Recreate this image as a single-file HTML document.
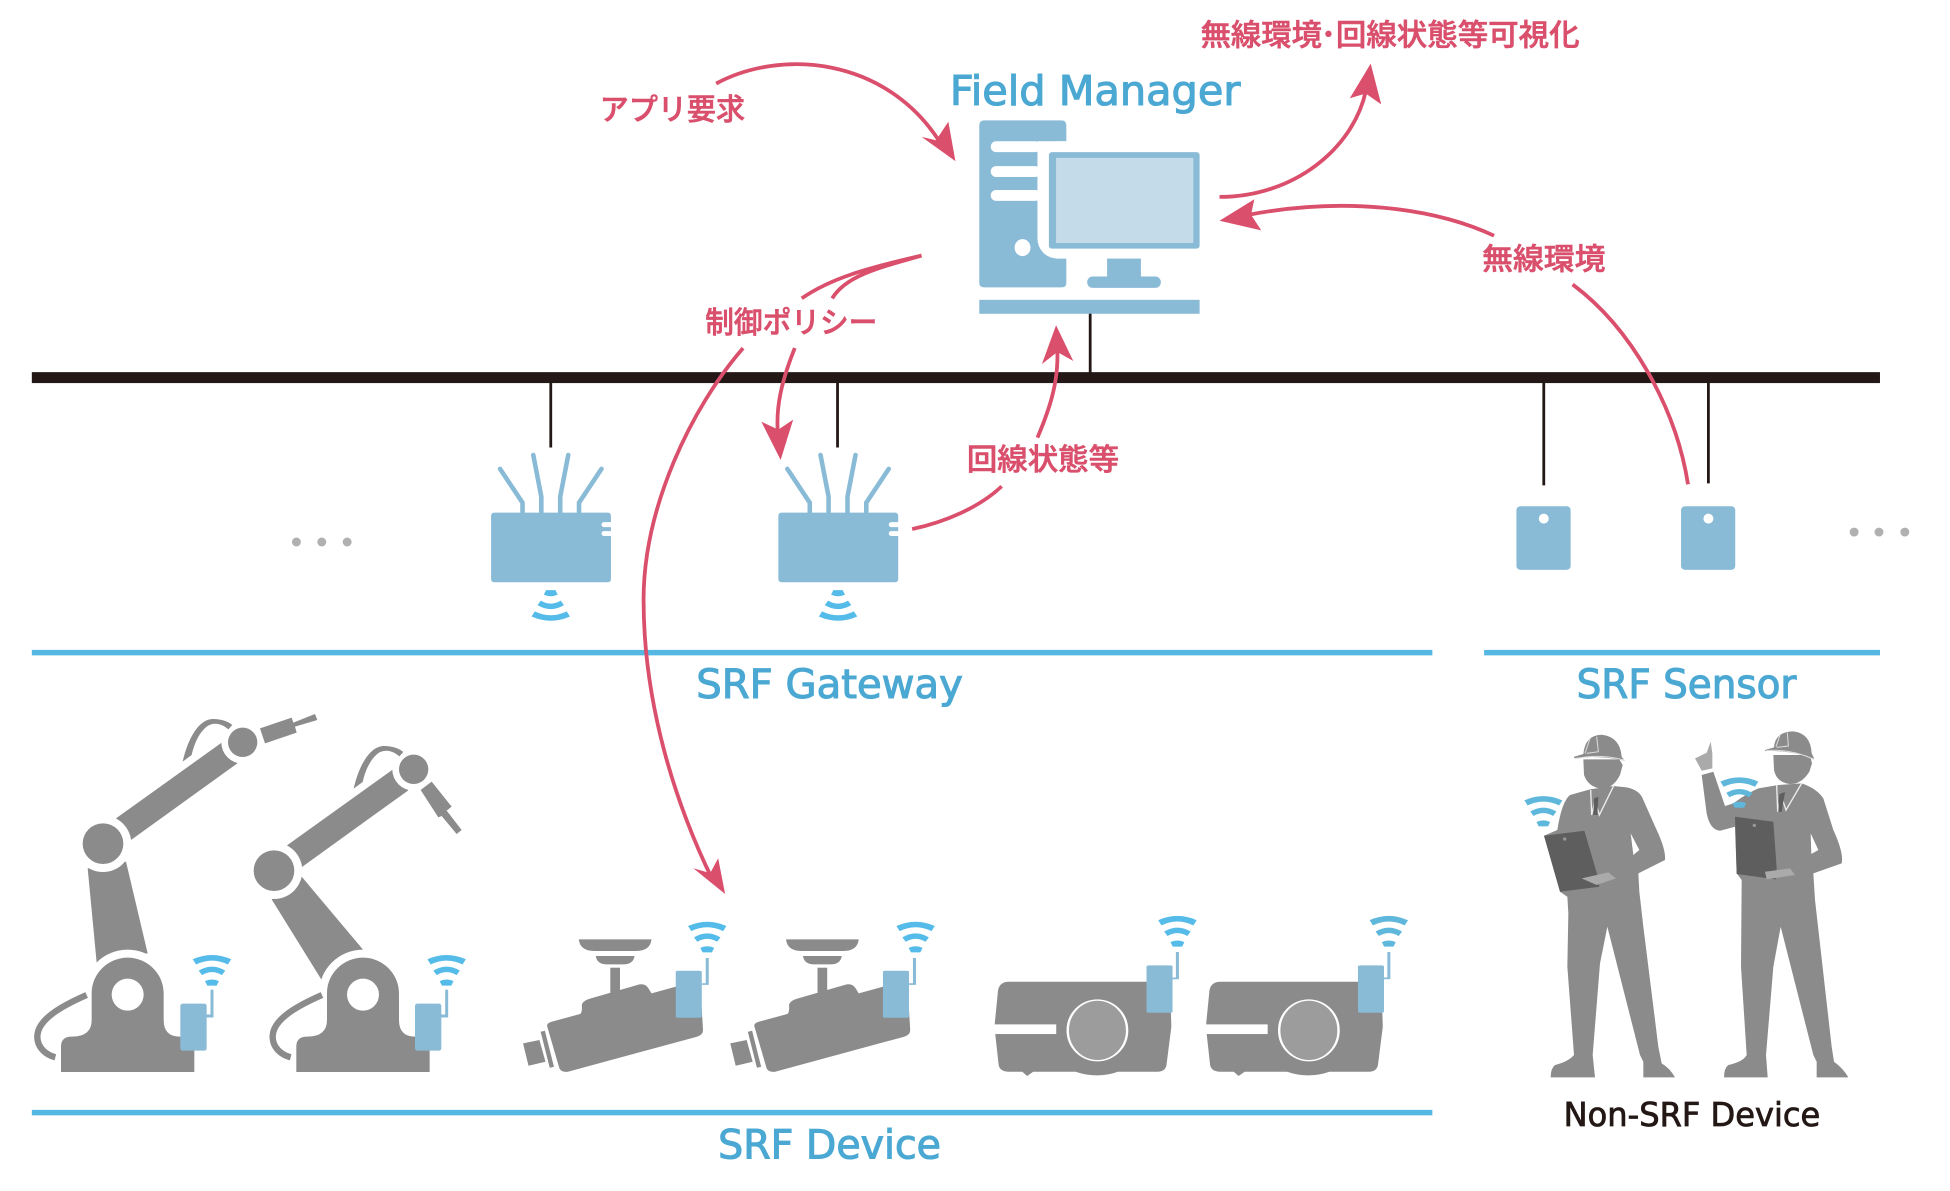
<!DOCTYPE html>
<html lang="ja"><head><meta charset="utf-8"><title>SRF</title>
<style>html,body{margin:0;padding:0;background:#fff}svg{display:block}
.l{font-family:"DejaVu Sans","Liberation Sans",sans-serif;fill:#4aa8d2;stroke:#4aa8d2;stroke-width:1.100}
.j{font-family:"Liberation Sans","Noto Sans CJK JP",sans-serif;font-weight:500;fill:#d94f6c;stroke:#d94f6c;stroke-width:.6;font-size:30px}
.a{fill:none;stroke:#da4f6c;stroke-width:3.800}
.h{fill:#da4f6c}
.g{fill:#8b8b8b}.b{fill:#89bbd7}
</style></head><body>
<svg width="1950" height="1191" viewBox="0 0 1950 1191" xmlns="http://www.w3.org/2000/svg">
<defs>
<g id="w"><path d="M-19.3 4.3Q0-4.3 19.3 4.3L16 9.5Q0 1.7-16 9.5Z"/><path d="M-13.3 15.7Q0 7.7 13.3 15.7L10 20.2Q0 14.3-10 20.2Z"/><path d="M-7 26.3Q0 23 7 26.3L4.7 30.8H-4.7Z"/></g>
<g id="gw">
<g transform="translate(0,1.500)">
<g fill="none" stroke="#89bbd7" stroke-width="4.6" stroke-linecap="round"><path d="M-28.4 516V504L-51 470"/><path d="M-9.5 516V498L-17.6 456"/><path d="M9.5 516V498L17.6 456"/><path d="M28.4 516V504L51 470"/></g>
<rect class="b" x="-60" y="514" width="120.500" height="70" rx="3"/>
<rect x="51" y="523.500" width="12" height="5" rx="2.500" fill="#fff"/><rect x="51" y="532.500" width="12" height="5" rx="2.500" fill="#fff"/>
</g>
<use href="#w" transform="translate(0,624.200) scale(1,-1)" fill="#55bbe8"/>
</g>
<g id="rbase">
<path class="g" d="M183 1146V1070Q183 1040 215 1040Q275 1040 275 990V910C275 850 325 803 383 803C441 803 491 850 491 910V990Q491 1040 540 1040H583V1146Z" stroke="#fff" stroke-width="0"/>
<circle cx="383" cy="914" r="48" fill="#fff"/>
<path d="M260 915C180 950 112 990 112 1040C112 1075 140 1095 166 1102" fill="none" stroke="#8b8b8b" stroke-width="19"/>
</g>
<g id="rupper">
<path class="g" d="M348 385L665 158L712 220L393 450Z"/>
<circle cx="309" cy="461" r="85" fill="#fff"/><circle class="g" cx="309" cy="461" r="61"/>
<circle cx="728" cy="157" r="64" fill="#fff"/><circle class="g" cx="728" cy="157" r="44"/>
<path class="g" d="M548 215C565 140 600 85 640 87C665 87 685 95 697 105L685 118C665 100 640 95 620 110C590 135 580 175 575 195Z"/>
</g>
<g id="box"><rect class="b" x="541" y="941" width="79" height="141" rx="7"/><path d="M636 903V978H620" fill="none" stroke="#89bbd7" stroke-width="9" stroke-linecap="round"/></g>
<g id="cam">
<path class="g" d="M130 178H250Q248 212 225 213H155Q132 212 130 178Z"/>
<path class="g" d="M158 228H222Q220 252 205 253H175Q160 252 158 228Z"/>
<rect class="g" x="182" y="263" width="16" height="75"/>
<path class="g" d="M85 425L132 402Q136 398 135 375Q136 362 150 355L230 313Q240 310 245 325L250 340L330 300L335 450Q335 465 325 470L112 575Q102 578 98 565L78 440Q76 430 85 425Z"/>
<path class="g" d="M38 490L65 480L75 545L47 557Z"/><path class="g" d="M67 455L74 452L89 560L82 563Z"/>
<rect class="b" x="290" y="272" width="43" height="141" rx="4"/>
<path d="M342 234V312H333" fill="none" stroke="#89bbd7" stroke-width="5"/>
</g>
<g id="pro">
<path class="g" d="M840 305H1095Q1105 305 1106 330L1108 440L1100 555Q1098 575 1085 575H1020Q985 597 950 575H880L870 588L862 575H840Q825 575 823 555L816 440L822 330Q825 305 840 305Z"/>
<rect x="814" y="433" width="104" height="29" fill="#fff"/>
<ellipse cx="986" cy="451" rx="49" ry="91" fill="#9c9c9c" stroke="#fff" stroke-width="4"/>
<rect class="b" x="1067" y="256" width="43" height="142" rx="4"/>
<path d="M1118 216V295H1110" fill="none" stroke="#89bbd7" stroke-width="5"/>
</g>
</defs>
<g transform="scale(.9947,.9945)">
<!-- bus -->
<rect x="32" y="374.200" width="1858" height="11" fill="#231815"/>
<g stroke="#231815" stroke-width="2.800"><path d="M1096 314V376M553.700 384V450M842 384V450M1552 384V488M1717.500 384V486"/></g>

<!-- computer -->
<path class="b" d="M984.500 126Q984.500 121 990 121H1067Q1072 121 1072 126V285Q1072 289 1067 289H990Q984.500 289 984.500 285Z"/>
<rect x="1043" y="142" width="175" height="118" rx="20" fill="#fff"/>
<rect x="1043" y="142" width="30" height="60" fill="#fff"/>
<g fill="#fff"><rect x="996" y="142" width="50" height="11" rx="5.500"/><rect x="996" y="167" width="50" height="11" rx="5.500"/><rect x="996" y="191" width="50" height="11" rx="5.500"/></g>
<ellipse cx="1028" cy="249" rx="8" ry="8.500" fill="#fff"/>
<rect class="b" x="1054.500" y="153" width="151.500" height="97" rx="3"/>
<rect x="1061.700" y="158.800" width="138" height="85.600" fill="#c4dcea"/>
<rect class="b" x="1113" y="260" width="34" height="22"/>
<rect class="b" x="1093" y="278" width="74" height="11.500" rx="5.500"/>
<rect class="b" x="984.500" y="301.500" width="221.500" height="14"/>

<!-- gateways -->
<use href="#gw" transform="translate(553.700,0)"/>
<use href="#gw" transform="translate(842.500,0)"/>
<g fill="#b0b0b0"><circle cx="298" cy="545" r="4.500"/><circle cx="323.500" cy="545" r="4.500"/><circle cx="349" cy="545" r="4.500"/><circle cx="1864" cy="535" r="4.500"/><circle cx="1889" cy="535" r="4.500"/><circle cx="1915" cy="535" r="4.500"/></g>

<!-- sensors -->
<rect class="b" x="1524.500" y="509" width="54.500" height="64" rx="4"/><ellipse cx="1552" cy="521.500" rx="5" ry="5" fill="#fff"/>
<rect class="b" x="1690" y="509" width="54.500" height="64" rx="4"/><ellipse cx="1717.500" cy="521.500" rx="5" ry="5" fill="#fff"/>

<!-- blue lines -->
<g fill="#55b8e3"><rect x="32" y="653.500" width="1408" height="5.500"/><rect x="1492" y="653.500" width="398" height="5.500"/><rect x="32" y="1116" width="1408" height="5.500"/></g>

<!-- robots -->
<g transform="translate(0,693.800) scale(.3351,.3352)">
<path class="g" d="M263 535L378 515L443 790L290 818Z"/>
<path d="M275 910C275 850 325 803 383 803C441 803 491 850 491 910" fill="#fff" stroke="#fff" stroke-width="48"/>
<use href="#rbase"/>
<use href="#rupper"/>
<path class="g" d="M780 115L875 83L880 98L945 72L952 90L885 110L890 128L795 160Z"/>
<use href="#box"/>
<g transform="translate(706,0)">
<path class="g" d="M109 628L199 560L384 780L259 870Z"/>
<path d="M275 910C275 850 325 803 383 803C441 803 491 850 491 910" fill="#fff" stroke="#fff" stroke-width="48"/>
<use href="#rbase"/>
</g>
<use href="#rupper" transform="translate(513,81)"/>
<path class="g" d="M1262 300L1295 275L1355 350L1340 362L1385 420L1370 432L1325 378L1315 382Z"/>
<use href="#box" transform="translate(704,0)"/>
</g>
<g fill="#55bbe8"><use href="#w" x="213.100" y="960.300"/><use href="#w" x="449" y="960.300"/></g>

<!-- cameras / projectors -->
<g transform="translate(502.700,884.900) scale(.6091,.3352)">
<use href="#cam"/><use href="#cam" transform="translate(342,0)"/>
<use href="#pro"/><use href="#pro" transform="translate(349,0)"/>
</g>
<g fill="#55bbe8"><use href="#w" x="711" y="926.800"/><use href="#w" x="920.500" y="926.800"/><use href="#w" x="1183.700" y="921"/></g>
<use href="#w" x="1396.200" y="921" fill="#5fb8dc"/>

<!-- people -->
<g transform="translate(1487.900,703.900) scale(.3351,.3352)">
<path class="g" d="M330 268L270 285Q245 305 232 390L192 407L240 575L262 590L265 640L262 800L282 1065Q265 1085 225 1095Q212 1105 212 1132H345L338 1065L360 790L382 680L480 1065L490 1085V1132H585Q570 1105 545 1090L535 1040L490 680L478 575L475 520L555 480Q558 450 530 390L490 300Q480 270 440 262L400 258Z"/>
<path d="M452 400L478 450L460 465Z" fill="#fff"/>
<path class="g" d="M310 178H418L428 195L420 225Q400 265 365 266Q325 262 312 225Z"/>
<path class="g" d="M282 170L310 162Q315 105 365 104Q420 110 425 170L434 182Q360 165 282 174Z"/>
<path d="M285 176Q360 160 432 180M315 160L330 115M320 160L355 155L350 110" fill="none" stroke="#ddd" stroke-width="3"/>
<path d="M332 270L335 345L345 300L358 345L402 255" fill="none" stroke="#eee" stroke-width="4"/>
<path d="M342 295L355 290L352 345H340Z" fill="#5e5e5e"/>
<path d="M192 407L313 392L352 525L358 560L240 575Z" fill="#5e5e5e"/>
<circle cx="254" cy="417" r="5" fill="#999"/>
<path d="M305 535L385 517L408 535L350 555Z" fill="#aaa"/>
<g transform="translate(190,300) scale(2.950)" fill="#5fb8dc"><use href="#w" y="-4"/></g>
<path class="g" d="M895 255L835 265Q800 280 760 310L735 318L700 215L665 225L680 340Q690 390 720 392L765 380L770 520L785 540L783 800L800 1065Q790 1085 745 1095Q732 1105 732 1132H863L858 1065L880 800L902 680L1000 1065L1010 1085V1132H1105Q1090 1105 1062 1085L1055 1040L1005 600L1000 520L1085 490Q1092 460 1060 390L1030 295Q1010 265 965 250Z"/>
<path d="M992 400L1015 450L994 462Z" fill="#fff"/>
<path class="g" d="M880 165H990L996 190L988 215Q965 252 930 252Q890 248 882 210Z"/>
<path class="g" d="M855 150L882 142Q885 95 940 94Q992 100 995 160L1003 176Q930 150 855 153Z"/>
<path d="M857 152Q930 145 1002 178M888 140L900 105M890 142L925 138L922 98" fill="none" stroke="#ddd" stroke-width="3"/>
<path d="M890 255L893 335L903 285L918 330L965 250" fill="none" stroke="#eee" stroke-width="4"/>
<path d="M898 282L915 276L905 335H895Z" fill="#5e5e5e"/>
<path d="M765 350L880 365L890 505L888 538L770 522Z" fill="#5e5e5e"/>
<circle cx="823" cy="376" r="5" fill="#999"/>
<path d="M855 515L930 505L945 525L860 538Z" fill="#aaa"/>
<path d="M645 175L680 158L692 125L697 160L697 205L665 212Z" fill="#aaa"/>
<g transform="translate(778,244) scale(2.950)" fill="#5fb8dc"><use href="#w" y="-4"/></g>
</g>

<!-- pink connectors -->
<path class="a" d="M720 84C785 49 890 57 945 143"/>
<path class="h" d="M960.500 162L926.500 137.600L941 141L953.400 122.400Z"/>
<path class="a" d="M1226 198C1300 198 1360 150 1373 92"/>
<path class="h" d="M1378 64L1357 98.800L1373 94L1388.600 105Z"/>
<path class="a" d="M1502 237C1440 208 1350 198 1255 216"/>
<path class="h" d="M1226 222L1261 200.400L1257.700 216L1268 231.700Z"/>
<path class="a" d="M1581 286C1640 330 1685 410 1697 487"/>
<path class="a" d="M926.500 257C870 270 835 280 806 300M926.500 257C880 270 850 278 836.600 300"/>
<path class="a" d="M747 350C695 410 647 510 647 603C647 710 680 810 716 884"/>
<path class="h" d="M729 899L697 873L714 878L722 863Z"/>
<path class="a" d="M799 350C785 385 780 410 782 435"/>
<path class="h" d="M784.800 462.500L765.400 424L782.500 432L797.400 422Z"/>
<path class="a" d="M917 532C950 525 985 510 1007 489"/>
<path class="a" d="M1043 440C1058 405 1064 380 1063 352"/>
<path class="h" d="M1061.700 327L1047.500 366L1063 354L1079 363Z"/>

<!-- labels -->
<text class="j" x="1207" y="46" textLength="122" lengthAdjust="spacingAndGlyphs">無線環境</text>
<circle cx="1335.500" cy="34" r="3.200" fill="#d94f6c"/>
<text class="j" x="1343" y="46" textLength="245" lengthAdjust="spacingAndGlyphs">回線状態等可視化</text>
<text class="j" x="603" y="120.500" textLength="146" lengthAdjust="spacingAndGlyphs">アプリ要求</text>
<text class="j" x="1490" y="271" textLength="124" lengthAdjust="spacingAndGlyphs">無線環境</text>
<text class="j" x="709" y="335" textLength="173" lengthAdjust="spacingAndGlyphs">制御ポリシー</text>
<text class="j" x="972" y="472.500" textLength="153" lengthAdjust="spacingAndGlyphs">回線状態等</text>
<text class="l" x="955" y="105.500" font-size="41" textLength="292" lengthAdjust="spacingAndGlyphs">Field Manager</text>
<text class="l" x="700" y="702" font-size="40" textLength="268" lengthAdjust="spacingAndGlyphs">SRF Gateway</text>
<text class="l" x="1585" y="702" font-size="40" textLength="221" lengthAdjust="spacingAndGlyphs">SRF Sensor</text>
<text class="l" x="722" y="1165" font-size="40" textLength="224" lengthAdjust="spacingAndGlyphs">SRF Device</text>
<text class="l" x="1572" y="1132" font-size="33" textLength="258" lengthAdjust="spacingAndGlyphs" style="fill:#231815;stroke:#231815;stroke-width:.8">Non-SRF Device</text>
</g>
</svg>
</body></html>
